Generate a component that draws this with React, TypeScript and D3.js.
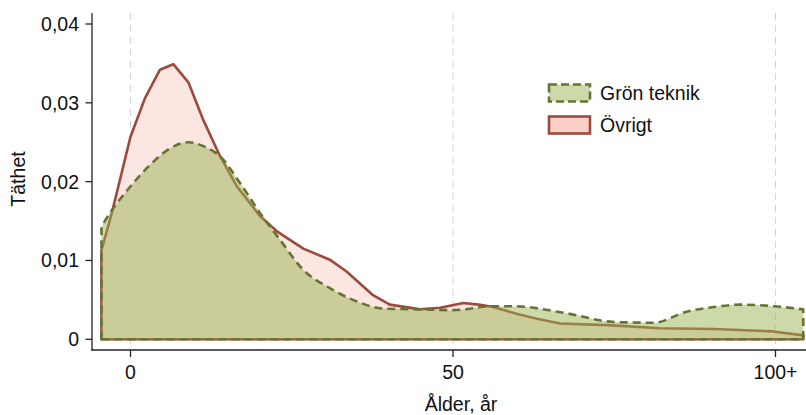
import React from "react";
import * as d3 from "d3";

const xTicks = [0, 50, 100];
const xTickLabels = ["0", "50", "100+"];
const yTicks = [0, 0.01, 0.02, 0.03, 0.04];
const yTickLabels = ["0", "0,01", "0,02", "0,03", "0,04"];
const seriesNames = ["Grön teknik", "Övrigt"];

const ovrigtX = [-4.5, -2.9, 0, 2.25, 4.57, 6.64, 8.97, 11.3, 13.9, 16.5, 20.1, 22.7, 26.8, 30.9, 33.5, 37.6, 40.2, 44.9, 48, 51.6, 54, 56.2, 60, 63, 66.6, 74, 82.1, 90.3, 99.6, 104.3];
const ovrigtY = [0.0113, 0.016, 0.0257, 0.0306, 0.0342, 0.0349, 0.0326, 0.0278, 0.0232, 0.0194, 0.0156, 0.0137, 0.0115, 0.0101, 0.0086, 0.0056, 0.0044, 0.0038, 0.0040, 0.0046, 0.0044, 0.0041, 0.0032, 0.0026, 0.0020, 0.0018, 0.0014, 0.0013, 0.0010, 0.0005];

const gronX = [-4.5, -3.2, 0, 3.0, 6.1, 8.97, 11.3, 13.9, 17.0, 20.1, 23.2, 26.8, 30.9, 35.1, 39.2, 44.9, 50, 56.2, 59.3, 67.6, 74.9, 81.1, 86.2, 90.5, 94.5, 99.7, 104.3];
const gronY = [0.0143, 0.016, 0.0194, 0.0221, 0.0242, 0.025, 0.0245, 0.0232, 0.0198, 0.016, 0.0126, 0.0088, 0.0065, 0.0048, 0.0039, 0.0038, 0.0037, 0.0042, 0.0042, 0.0033, 0.0022, 0.0021, 0.0035, 0.0041, 0.0044, 0.0042, 0.0038];

const FONT = "'Liberation Sans', Arial, Helvetica, sans-serif";
const FS = 19.5;

export default function App() {
  const W = 806, H = 415;
  const x = d3.scaleLinear().domain([0, 50]).range([130.5, 453]);
  const y = d3.scaleLinear().domain([0, 0.04]).range([339.3, 24]);

  const makePoly = (xs: number[], ys: number[], curve: any) => {
    const pts: [number, number][] = xs.map((v, i) => [v, ys[i]]);
    const line = d3.line<[number, number]>().x(d => x(d[0])).y(d => y(d[1])).curve(curve);
    const top = line(pts) as string;
    return `M${x(xs[0])},${y(0)}L${top.slice(1)}L${x(xs[xs.length - 1])},${y(0)}Z`;
  };

  const redPath = makePoly(ovrigtX, ovrigtY, d3.curveLinear);
  const greenPath = makePoly(gronX, gronY, d3.curveMonotoneX);

  const redLine = "#9b4a3b";
  const redFill = "#fbe6e1";
  const greenLine = "#667433";
  const greenFill = "rgba(154,180,84,0.5)";

  return (
    <svg width={W} height={H} style={{ position: "absolute", left: 0, top: 0, fontFamily: FONT }}>
      <rect x={0} y={0} width={W} height={H} fill="white" />
      {xTicks.map(t => (
        <line key={"g" + t} x1={x(t)} x2={x(t)} y1={13} y2={350} stroke="#d4d4d4" strokeWidth={1} strokeDasharray="7,5" />
      ))}
      <path d={redPath} fill={redFill} stroke={redLine} strokeWidth={2.6} strokeLinejoin="round" />
      <path d={greenPath} fill={greenFill} stroke="none" />
      <path d={greenPath} fill="none" stroke={greenLine} strokeWidth={2.6} strokeDasharray="8,5" strokeLinejoin="round" />
      <line x1={92} x2={92} y1={13} y2={350.5} stroke="#222" strokeWidth={1.3} />
      {yTicks.map((t, i) => (
        <g key={"y" + t}>
          <line x1={85.5} x2={92} y1={y(t)} y2={y(t)} stroke="#222" strokeWidth={1.3} />
          <text x={79} y={y(t)} dy="0.36em" textAnchor="end" fontSize={FS} fill="#111">{yTickLabels[i]}</text>
        </g>
      ))}
      <line x1={91.4} x2={806} y1={350} y2={350} stroke="#222" strokeWidth={1.3} />
      {xTicks.map((t, i) => (
        <g key={"x" + t}>
          <line x1={x(t)} x2={x(t)} y1={350} y2={357} stroke="#222" strokeWidth={1.3} />
          <text x={x(t)} y={372} dy="0.36em" textAnchor="middle" fontSize={FS} fill="#111">{xTickLabels[i]}</text>
        </g>
      ))}
      <text x={461} y={404} dy="0.36em" textAnchor="middle" fontSize={FS} fill="#111">Ålder, år</text>
      <text transform="translate(18,179) rotate(-90)" dy="0.36em" textAnchor="middle" fontSize={FS} fill="#111">Täthet</text>
      <rect x={549} y={84.5} width={41} height={17} fill="#cdd9a9" stroke={greenLine} strokeWidth={2.6} strokeDasharray="8,4" />
      <text x={600} y={93} dy="0.36em" fontSize={FS} fill="#111">{seriesNames[0]}</text>
      <rect x={549} y={116.5} width={41} height={17} fill="#fcd0c8" stroke={redLine} strokeWidth={2.6} />
      <text x={600} y={125} dy="0.36em" fontSize={FS} fill="#111">{seriesNames[1]}</text>
    </svg>
  );
}
